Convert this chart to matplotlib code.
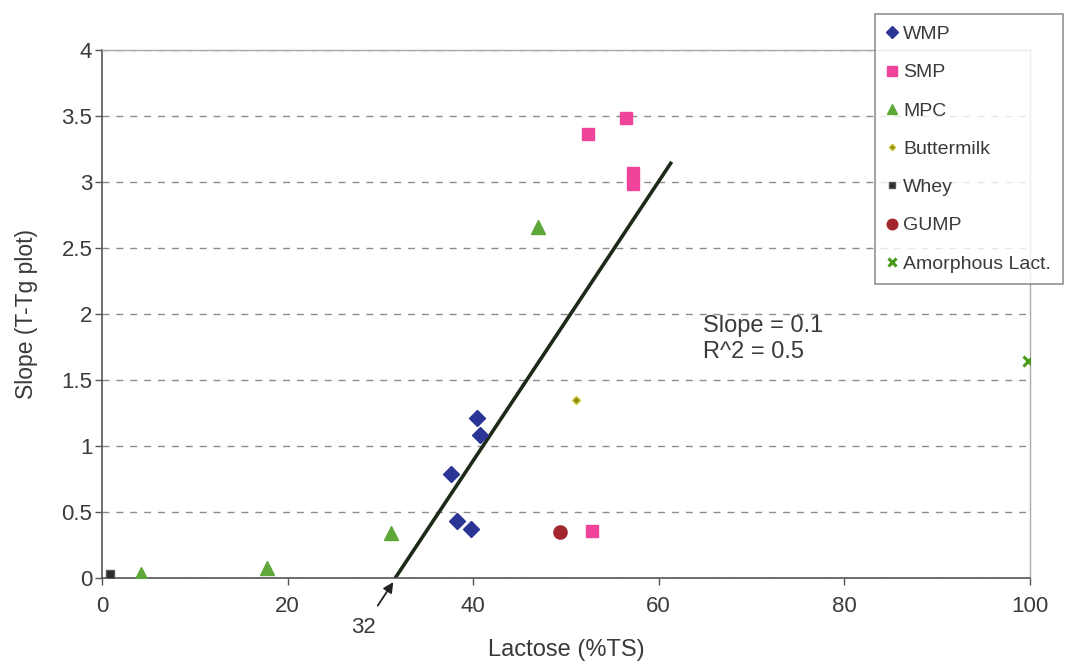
import matplotlib
matplotlib.use("Agg")
import matplotlib.pyplot as plt

plt.rcParams['font.family'] = ['Liberation Sans', 'DejaVu Sans']

# lactose content (%TS) vs slope of the T-Tg plot, per powder type
wmp_x = [40.4, 40.75, 37.6, 38.3, 39.8]
wmp_y = [1.21, 1.08, 0.79, 0.43, 0.37]
smp_x = [56.5, 52.4, 57.2, 57.2, 52.8]
smp_y = [3.48, 3.36, 3.07, 2.98, 0.36]
mpc_x = [4.2, 17.8, 31.1, 47.0]
mpc_y = [0.03, 0.08, 0.34, 2.66]
buttermilk_x = [51.1]
buttermilk_y = [1.35]
whey_x = [0.9]
whey_y = [0.03]
gump_x = [49.4]
gump_y = [0.35]
lactose_x = [99.8]
lactose_y = [1.64]

# fitted trend line (intercept with x axis at 32)
fit_x = [31.6, 61.3]
fit_y = [0.0, 3.14]

fig = plt.figure(figsize=(10.65, 6.63), dpi=100)
ax = fig.add_axes([0.0958, 0.128, 0.871, 0.797])

ax.plot(wmp_x, wmp_y, 'D', color='#2b3596', ms=8, mec='#2b3596', label='WMP', zorder=3)
ax.plot(smp_x, smp_y, 's', color='#f0449a', ms=9, mec='#f0449a', label='SMP', zorder=3)
ax.plot(mpc_x, mpc_y, '^', color='#5ea83a', ms=9.5, mec='#5ea83a', label='MPC', zorder=3)
ax.plot(buttermilk_x, buttermilk_y, 'D', color='#8a8a10', ms=4, mec='#c8c83a', label='Buttermilk', zorder=3)
ax.plot(whey_x, whey_y, 's', color='#2a2a2a', ms=6, mec='#555555', label='Whey', zorder=3)
ax.plot(gump_x, gump_y, 'o', color='#a3262c', ms=9.5, mec='#a3262c', label='GUMP', zorder=3)
ax.plot(lactose_x, lactose_y, 'x', color='#4a9a1a', ms=7, mew=2.2, label='Amorphous Lact.', zorder=3)

ax.plot(fit_x, fit_y, '-', color='#1c2a18', lw=2.6, zorder=2)

ax.set_xlim(0, 100)
ax.set_ylim(0, 4)
ax.set_xticks([0, 20, 40, 60, 80, 100])
ax.set_yticks([0, 0.5, 1, 1.5, 2, 2.5, 3, 3.5, 4])
ax.set_yticklabels(['0', '0.5', '1', '1.5', '2', '2.5', '3', '3.5', '4'])
ax.tick_params(direction='out', length=5, width=1, colors='#555555',
               labelcolor='#3a3a3a', labelsize=16, pad=2)
ax.tick_params(axis='x', pad=8)
ax.yaxis.grid(True, linestyle=(0, (5, 5)), color='#8c8c8c', lw=1)
ax.set_axisbelow(True)

for side in ['left', 'bottom']:
    ax.spines[side].set_color('#555555')
    ax.spines[side].set_linewidth(1.2)
for side in ['top', 'right']:
    ax.spines[side].set_color('#aaaaaa')
    ax.spines[side].set_linewidth(1)

ax.set_xlabel('Lactose (%TS)', fontsize=17, color='#3a3a3a', labelpad=16)
ax.set_ylabel('Slope (T-Tg plot)', fontsize=16.5, color='#3a3a3a', labelpad=17)

ax.text(64.8, 1.81, 'Slope = 0.1\nR^2 = 0.5', fontsize=17, color='#3a3a3a',
        va='center', ha='left', linespacing=1.2)

ax.annotate('32', xy=(31.4, -0.03), xytext=(28.2, -0.37),
            fontsize=16, color='#3a3a3a', ha='center', va='center',
            annotation_clip=False,
            arrowprops=dict(arrowstyle='-|>', color='#222222', lw=1.3,
                            shrinkA=7, shrinkB=0, mutation_scale=15))

leg = fig.legend(loc='upper left', bbox_to_anchor=(0.8216, 0.9789), fontsize=14,
                 frameon=True, fancybox=False, edgecolor='#777777',
                 handlelength=0.5, handletextpad=0.35, labelspacing=1.06,
                 borderpad=0.6, borderaxespad=0, markerscale=0.8, numpoints=1)
leg.get_frame().set_linewidth(1.2)
for t in leg.get_texts():
    t.set_color('#3a3a3a')

fig.savefig('out.png', dpi=100, facecolor='white')
